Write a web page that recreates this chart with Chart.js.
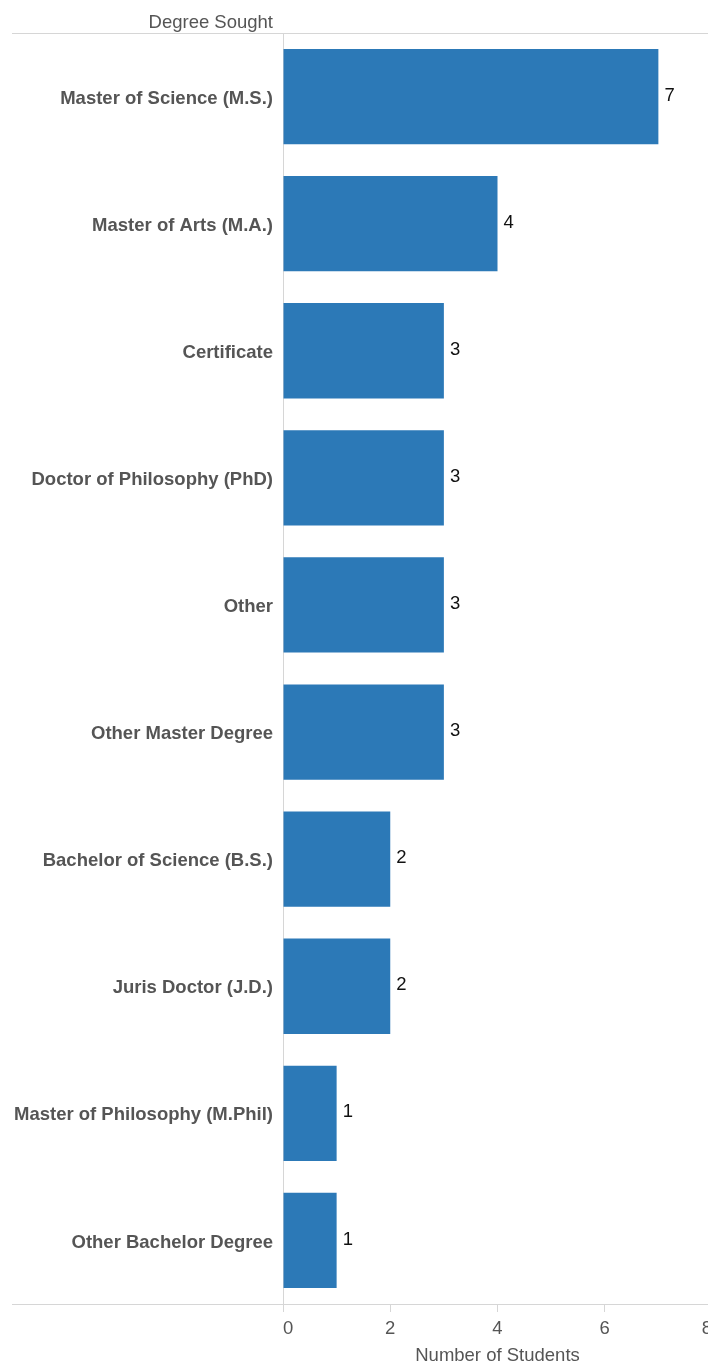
<!DOCTYPE html>
<html>
<head>
<meta charset="utf-8">
<script src="https://cdn.jsdelivr.net/npm/chart.js@4"></script>
<style>
  html, body { margin: 0; padding: 0; overflow: hidden; background: #fff; }
  #wrap { width: 720px; height: 1363px; position: relative; }
</style>
</head>
<body>
<div id="wrap"><canvas id="myChart"></canvas></div>
<script>
var degrees = ['Master of Science (M.S.)', 'Master of Arts (M.A.)', 'Certificate', 'Doctor of Philosophy (PhD)', 'Other', 'Other Master Degree', 'Bachelor of Science (B.S.)', 'Juris Doctor (J.D.)', 'Master of Philosophy (M.Phil)', 'Other Bachelor Degree'];
var students = [7, 4, 3, 3, 3, 3, 2, 2, 1, 1];
var xTicks = [0, 2, 4, 6, 8];

var FONT = '"Liberation Sans", Arial, sans-serif';
var LINE = '#d6d6d6';
var GREY = '#555555';

// header text and value labels next to the bars
const extras = {
    id: 'extras',
    afterDraw(chart) {
        const c = chart.ctx;
        c.save();
        c.font = '18.5px ' + FONT;
        c.fillStyle = GREY;
        c.textAlign = 'right';
        c.textBaseline = 'middle';
        c.fillText('Degree Sought', 273, 23);

        c.fillStyle = '#111';
        c.textAlign = 'left';
        chart.getDatasetMeta(0).data.forEach(function (bar, i) {
            c.fillText(String(students[i]), bar.x + 6, bar.y - 1);
        });
        c.restore();
    }
};

const ctx = document.getElementById('myChart').getContext('2d');
const myChart = new Chart(ctx, {
    type: 'bar',
    data: {
        labels: degrees,
        datasets: [{
            label: 'Number of Students',
            data: students,
            backgroundColor: '#2c79b7',
            borderWidth: 0,
            categoryPercentage: 1,
            barPercentage: 0.75
        }]
    },
    options: {
        indexAxis: 'y',
        responsive: true,
        maintainAspectRatio: false,
        animation: false,
        layout: { padding: { top: 33, right: 8, left: 0, bottom: 0 } },
        plugins: {
            legend: { display: false },
            tooltip: { enabled: false }
        },
        scales: {
            x: {
                min: 0,
                max: 8,
                afterBuildTicks: function (scale) {
                    scale.ticks = xTicks.map(function (v) { return { value: v }; });
                },
                afterFit: function (scale) { scale.height = 59; },
                grid: {
                    drawOnChartArea: false,
                    drawTicks: true,
                    tickLength: 8,
                    tickColor: LINE
                },
                border: { display: true, color: LINE },
                ticks: {
                    align: 'inner',
                    padding: 6,
                    color: GREY,
                    font: { family: FONT, size: 18.5 }
                },
                title: {
                    display: true,
                    text: 'Number of Students',
                    color: GREY,
                    font: { family: FONT, size: 18.5 },
                    padding: { top: 0, bottom: -4 }
                }
            },
            y: {
                afterFit: function (scale) { scale.width = 283; },
                grid: {
                    offset: true,
                    drawOnChartArea: true,
                    drawTicks: true,
                    tickLength: 271,
                    color: function (c) {
                        return (c.index === 0 || c.index === undefined) ? LINE : 'rgba(0,0,0,0)';
                    }
                },
                border: { display: true, color: LINE },
                ticks: {
                    padding: -261,
                    labelOffset: 2,
                    color: GREY,
                    font: { family: FONT, size: 18.5, weight: 'bold' }
                }
            }
        }
    },
    plugins: [extras]
});
</script>
</body>
</html>
